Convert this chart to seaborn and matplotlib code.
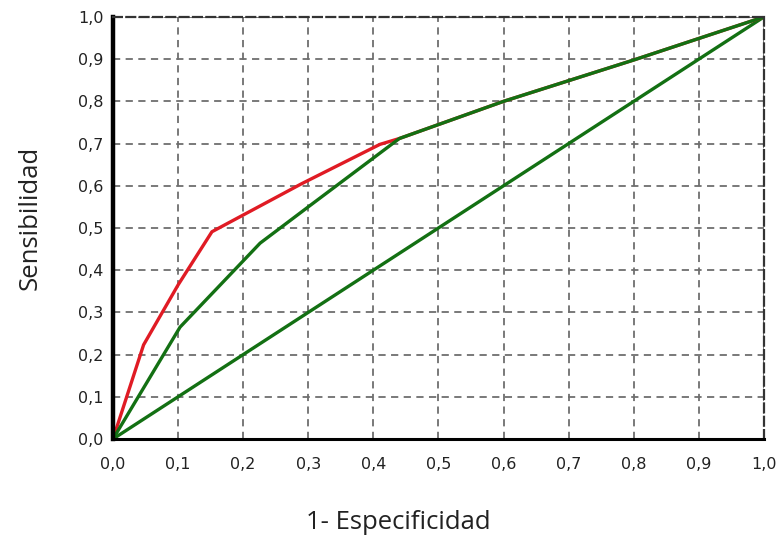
import matplotlib
matplotlib.use("Agg")
import matplotlib.pyplot as plt
from matplotlib.ticker import MultipleLocator, FuncFormatter
import seaborn as sns

# ROC curves: 1 - specificity vs sensitivity
fpr_red = [0.0, 0.047, 0.10, 0.152, 0.29, 0.41, 0.44, 0.60, 0.80, 1.0]
tpr_red = [0.0, 0.223, 0.365, 0.491, 0.605, 0.698, 0.712, 0.800, 0.898, 1.0]

fpr_green = [0.0, 0.103, 0.226, 0.30, 0.44, 0.60, 0.80, 1.0]
tpr_green = [0.0, 0.265, 0.464, 0.55, 0.712, 0.800, 0.898, 1.0]

fpr_ref = [0.0, 1.0]
tpr_ref = [0.0, 1.0]

ticks = [i / 10 for i in range(11)]

sns.set_style("white")
plt.rcParams["font.family"] = ["DejaVu Sans"]

fig = plt.figure(figsize=(7.83, 5.46), dpi=100)
ax = fig.add_axes([0.1443, 0.196, 0.8314, 0.773])

ax.grid(True, which="major", color="#6e6e6e", linestyle=(0, (4, 3)), linewidth=1.3)
ax.set_axisbelow(True)

sns.lineplot(x=fpr_ref, y=tpr_ref, ax=ax, color="#137013", linewidth=2.4, sort=False)
sns.lineplot(x=fpr_red, y=tpr_red, ax=ax, color="#e01b24", linewidth=2.4, sort=False)
sns.lineplot(x=fpr_green, y=tpr_green, ax=ax, color="#137013", linewidth=2.4, sort=False)

ax.set_xlim(0, 1)
ax.set_ylim(0, 1)
ax.set_xticks(ticks)
ax.set_yticks(ticks)
ax.xaxis.set_minor_locator(MultipleLocator(0.05))
fmt = FuncFormatter(lambda v, p: f"{v:.1f}".replace(".", ","))
ax.xaxis.set_major_formatter(fmt)
ax.yaxis.set_major_formatter(fmt)

ax.tick_params(axis="both", which="major", direction="out", length=5, width=1.2,
               colors="#222222", labelsize=11.5)
ax.tick_params(axis="x", which="major", pad=8)
ax.tick_params(axis="y", which="major", pad=2)
ax.tick_params(axis="x", which="minor", direction="out", length=3, width=1.2, color="#222222")

for side in ("left", "bottom"):
    ax.spines[side].set_color("black")
ax.spines["left"].set_linewidth(3.2)
ax.spines["bottom"].set_linewidth(2.2)
for side in ("top", "right"):
    ax.spines[side].set_color("#333333")
    ax.spines[side].set_linewidth(1.6)
    ax.spines[side].set_linestyle((0, (4, 2)))

ax.set_xlabel("1- Especificidad", fontsize=18.5, family="Open Sans", color="#222222")
ax.set_ylabel("Sensibilidad", fontsize=18.5, family="Open Sans", color="#222222")
ax.xaxis.set_label_coords(0.438, -0.199)
ax.yaxis.set_label_coords(-0.127, 0.524)
ax.xaxis.label.set_va("center")
ax.yaxis.label.set_va("center")

fig.savefig("out.png", dpi=100)
